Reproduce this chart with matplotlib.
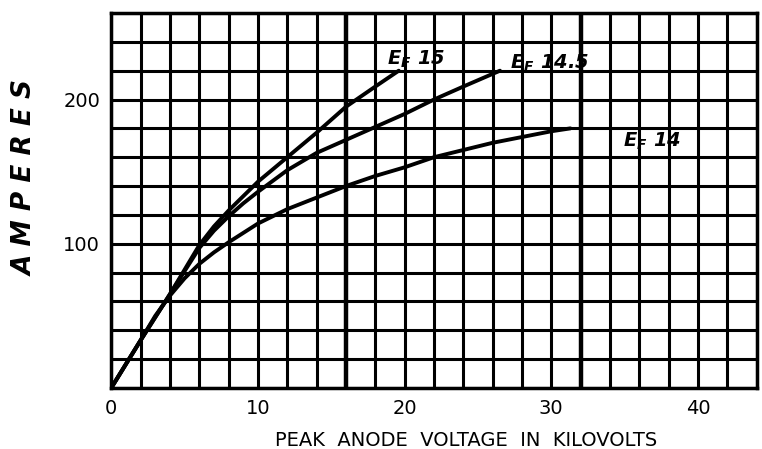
import numpy as np
import matplotlib
matplotlib.use("Agg")
import matplotlib.pyplot as plt

# values (kV, amperes)
ef15_kv = [0, 2, 4, 5, 6, 7, 8, 9, 10, 12, 14, 16, 18, 19.6]
ef15_amp = [0, 33, 65, 82, 99, 112, 123, 133, 143, 160, 177, 195, 209, 220]

ef145_kv = [0, 2, 4, 5, 6, 7, 8, 9, 10, 12, 14, 16, 18, 20, 22, 24, 26.5]
ef145_amp = [0, 33, 65, 81, 97, 109, 119, 128, 136, 151, 163, 172, 181, 190, 200, 209, 220]

ef14_kv = [0, 2, 3, 4, 5, 6, 7, 8, 10, 12, 14, 16, 18, 20, 22, 24, 26, 28, 30, 31.3]
ef14_amp = [0, 33, 50, 64, 76, 86, 94, 101, 114, 124, 132, 140, 147, 153, 160, 165, 170, 174, 178, 180]

curve_labels = ["15", "14.5", "14"]
label_pos = [(18.8, 228), (27.2, 225), (34.9, 171)]

x_ticks = [0, 10, 20, 30, 40]
y_ticks = [100, 200]

fig = plt.figure(figsize=(7.62, 4.49), dpi=100)
ax = fig.add_axes([0.146, 0.136, 0.847, 0.835])
ax.set_xlim(0, 44)
ax.set_ylim(0, 260)

# graph paper grid, every 2 kV and 20 A; heavier rules at 16 and 32 kV
for xv in np.arange(0, 45, 2):
    lw = 3.2 if xv in (16, 32) else 2.2
    ax.axvline(xv, color="black", lw=lw, zorder=1)
for yv in np.arange(0, 261, 20):
    ax.axhline(yv, color="black", lw=2.2, zorder=1)

for kv, amp in [(ef15_kv, ef15_amp), (ef145_kv, ef145_amp), (ef14_kv, ef14_amp)]:
    ax.plot(kv, amp, color="black", lw=2.8, solid_capstyle="round",
            solid_joinstyle="round", zorder=3)

for lab, (lx, ly) in zip(curve_labels, label_pos):
    ax.text(lx, ly, r"E$_{\mathregular{F}}$ " + lab, fontsize=14, fontweight="bold",
            fontstyle="italic", ha="left", va="center", zorder=4)

for s in ax.spines.values():
    s.set_linewidth(2.5)

ax.set_xticks(x_ticks)
ax.set_xticklabels([str(t) for t in x_ticks], fontsize=14)
ax.set_yticks(y_ticks)
ax.set_yticklabels([str(t) for t in y_ticks], fontsize=14)
ax.tick_params(length=0, pad=8)

ax.set_xlabel("PEAK  ANODE  VOLTAGE  IN  KILOVOLTS", fontsize=14)
ax.xaxis.set_label_coords(0.55, -0.115)
ax.set_ylabel("A M P E R E S", fontsize=19, fontstyle="italic", fontweight="bold")
ax.yaxis.set_label_coords(-0.112, 0.56)

fig.savefig("out.png", dpi=100)
